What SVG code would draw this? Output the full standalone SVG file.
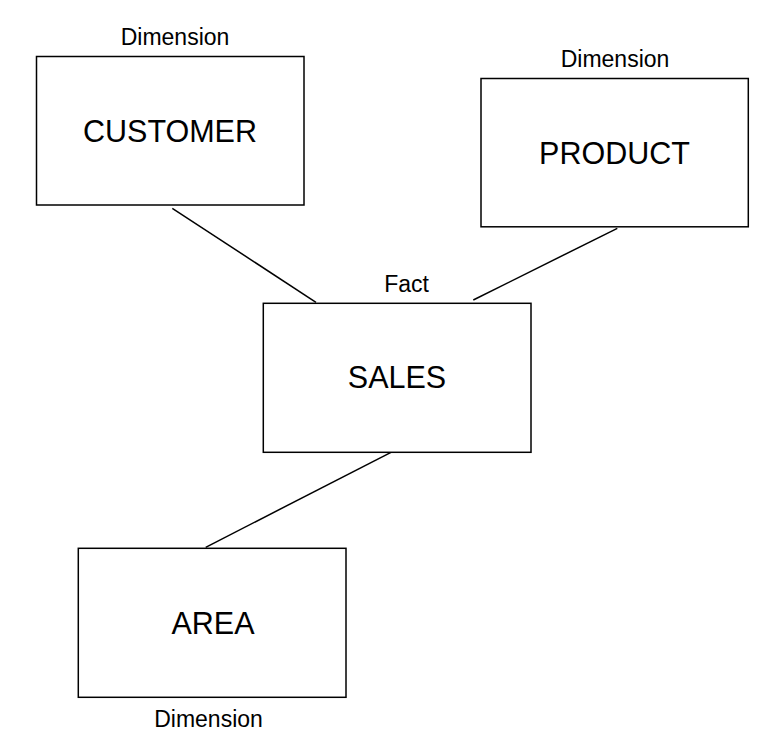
<svg xmlns="http://www.w3.org/2000/svg" width="784" height="746" viewBox="0 0 784 746">
<style>
.box{fill:#fff;stroke:#000;stroke-width:1.5}
.link{stroke:#000;stroke-width:1.5;fill:none}
.big{font-family:"Liberation Sans",Arial,sans-serif;font-size:30.5px;text-anchor:middle;fill:#000}
.small{font-family:"Liberation Sans",Arial,sans-serif;font-size:23px;text-anchor:middle;fill:#000}
</style>
<rect width="784" height="746" fill="#fff"/>
<g id="connectors">
<line class="link" x1="172.3" y1="208.3" x2="316" y2="302.3"/>
<line class="link" x1="617.3" y1="228.3" x2="473.3" y2="300"/>
<line class="link" x1="391" y1="452.3" x2="205.7" y2="547.3"/>
</g>
<g id="customer">
<rect class="box" x="36.5" y="56.5" width="267.5" height="148.5"/>
<text class="small" x="175" y="45">Dimension</text>
<text class="big" x="170" y="142">CUSTOMER</text>
</g>
<g id="product">
<rect class="box" x="481" y="78.5" width="267.3" height="148.3"/>
<text class="small" x="615" y="67">Dimension</text>
<text class="big" x="614.5" y="164">PRODUCT</text>
</g>
<g id="sales">
<rect class="box" x="263.3" y="303.3" width="267.7" height="149"/>
<text class="small" x="406.5" y="292">Fact</text>
<text class="big" x="397" y="388">SALES</text>
</g>
<g id="area">
<rect class="box" x="78.3" y="548.3" width="267.7" height="149"/>
<text class="big" x="213" y="634">AREA</text>
<text class="small" x="208.5" y="727">Dimension</text>
</g>
</svg>
